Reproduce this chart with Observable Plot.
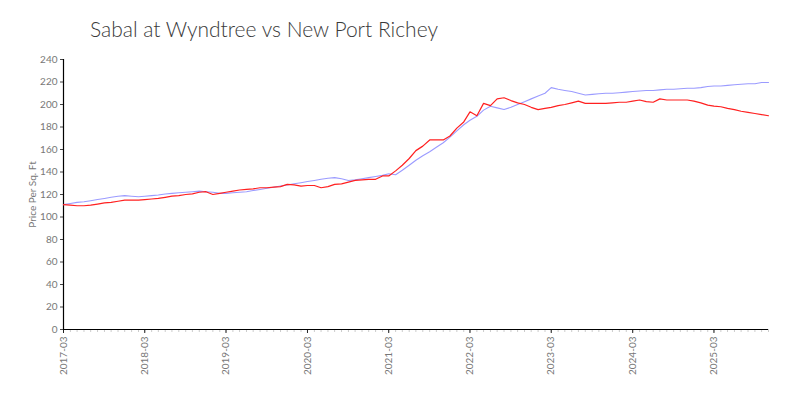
<!DOCTYPE html>
<html>
<head>
<meta charset="utf-8">
<script src="https://cdn.jsdelivr.net/npm/d3@7"></script>
<script src="https://cdn.jsdelivr.net/npm/@observablehq/plot@0.6"></script>
<style>
  html, body { margin: 0; padding: 0; background: #fff; width: 800px; height: 400px; overflow: hidden; }
  #title { height: 50px; box-sizing: border-box; padding-left: 90px; padding-top: 17px;
           font-family: Lato, "Open Sans", sans-serif; font-weight: 300; font-size: 21px; color: #3a3a3a; line-height: 24px; }
  #chart svg { display: block; }
</style>
</head>
<body>
<div id="title">Sabal at Wyndtree vs New Port Richey</div>
<div id="chart"></div>
<script>
const title = "Sabal at Wyndtree vs New Port Richey";
const yLabel = "Price Per Sq. Ft";
const startMonth = "2017-03";
const endMonth = "2025-11";
const yearTicks = ["2017-03","2018-03","2019-03","2020-03","2021-03","2022-03","2023-03","2024-03","2025-03"];
const yTicks = [0,20,40,60,80,100,120,140,160,180,200,220,240];

// Sabal at Wyndtree (red), monthly from 2017-03
const sabal = [
  111,110.5,110,110,110.5,111.5,112.5,113,114,115,115,115,
  115.5,116,116.5,117.5,118.5,119,120,120.5,122,122.5,120,121,
  122,123,124,124.5,125,126,126,126.5,127,129,128.5,127.5,
  128,128,126,127,129,129.5,131,132.5,133,133.5,133.5,136.5,
  136.5,141,146,152,159,163,168.5,168.5,168.5,172,179,184.5,
  193.5,190,201,199,205,206,203.5,201.5,200,197.5,195.5,196.5,
  197.5,199,200,201.5,203,201,201,201,201,201.5,202,202,
  203,204,202.5,202,205,204,204,204,204,203,201.5,199.5,
  198.5,198,196.5,195.5,194,193,192,191,190
];
// New Port Richey (blue), monthly from 2017-03
const newPortRichey = [
  111,112,113,113.5,114.5,115.5,116.5,117.5,118.5,119,118.5,118,
  118.5,119,119.5,120.5,121,121.5,122,122.5,123,122.5,122,121,
  121,121.5,122,122.5,123.5,124.5,125.5,126.5,127.5,128.5,129.5,130.5,
  131.5,132.5,133.5,134.5,135,134,132.5,133,134,135,136,137,
  138.5,137.5,141.5,146,150.5,154.5,158,162,166,171,176.5,182,
  186,189.5,195,198.5,197,195.5,197.5,200,202.5,205,207.5,210,
  215,213.5,212.5,211.5,210,208.5,209,209.5,210,210,210.5,211,
  211.5,212,212.5,212.5,213,213.5,213.5,214,214.5,214.5,215,216,
  216.5,216.5,217,217.5,218,218.5,218.5,219.5,219.5
];

const parseM = d3.utcParse("%Y-%m");
const months = d3.utcMonth.range(parseM(startMonth), d3.utcMonth.offset(parseM(endMonth), 1));
const rows = [];
months.forEach((d, i) => {
  if (i < newPortRichey.length) rows.push({date: d, value: newPortRichey[i], series: "New Port Richey"});
});
months.forEach((d, i) => {
  if (i < sabal.length) rows.push({date: d, value: sabal[i], series: "Sabal at Wyndtree"});
});
const majorTicks = yearTicks.map(parseM);
const fmt = d3.utcFormat("%Y-%m");

const chart = Plot.plot({
  width: 800,
  height: 350,
  marginTop: 9,
  marginBottom: 71,
  marginLeft: 63,
  marginRight: 32,
  style: {fontFamily: "Lato, 'Open Sans', sans-serif", fontSize: "10px", color: "#777", background: "#fff"},
  x: {type: "utc", domain: [parseM(startMonth), parseM(endMonth)]},
  y: {domain: [0, 240]},
  marks: [
    Plot.axisX({ticks: months, tickSize: 3, tickFormat: () => "", stroke: "#ccc", label: null}),
    Plot.axisX({ticks: majorTicks, tickSize: 4, tickFormat: fmt, tickRotate: -90, tickPadding: 3,
                stroke: "#222", fill: "#777", label: null, fontSize: 10}),
    Plot.axisY({ticks: yTicks, tickSize: 3, tickPadding: 3, stroke: "#444", fill: "#777", fontSize: 10,
                label: null}),
    Plot.text([yLabel], {frameAnchor: "left", dx: -31, rotate: -90, textAnchor: "middle", fill: "#777", fontSize: 10, text: d => d}),
    Plot.ruleY([0], {stroke: "#000", strokeWidth: 1.2}),
    Plot.ruleX([parseM(startMonth)], {stroke: "#000", strokeWidth: 1.2}),
    Plot.line(rows.filter(d => d.series === "New Port Richey"), {x: "date", y: "value", stroke: "#9b9bff", strokeWidth: 1.1}),
    Plot.line(rows.filter(d => d.series === "Sabal at Wyndtree"), {x: "date", y: "value", stroke: "#ff2020", strokeWidth: 1.2})
  ]
});
document.getElementById("chart").appendChild(chart);
</script>
</body>
</html>
